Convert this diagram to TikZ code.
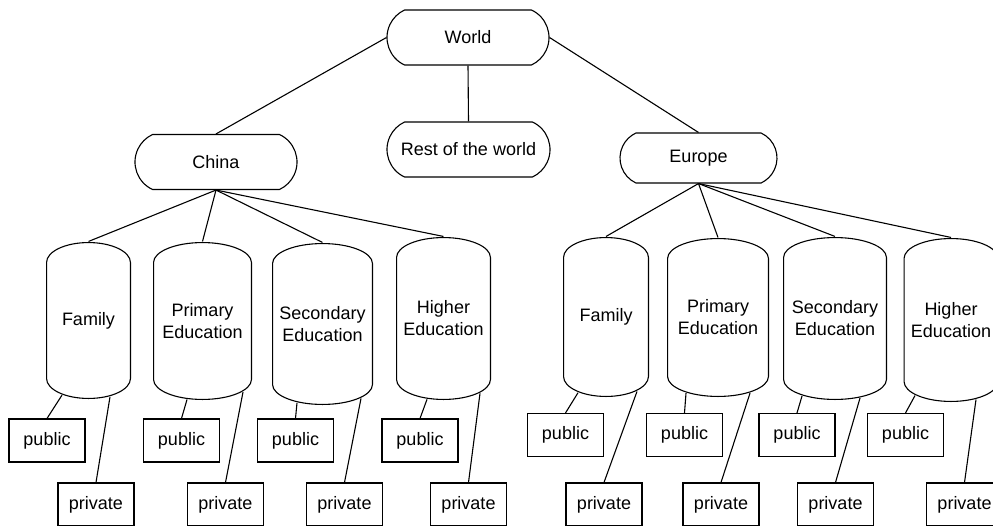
\documentclass[tikz,border=0pt]{standalone}
\usepackage{fontspec}
\setmainfont{Liberation Sans}
\usetikzlibrary{calc, shapes.misc}

\begin{document}
\begin{tikzpicture}[x=1pt, y=-1pt, line width=1.1pt,
    font=\fontsize{18}{22}\selectfont,
    region/.style={rounded rectangle, rounded rectangle arc length=130, draw,
        minimum width=162, minimum height=55, inner sep=0},
    branch/.style={rectangle, inner sep=0, align=center, fill=white,
        path picture={
            \draw[line width=1.1pt]
                let \p1=(path picture bounding box.south west),
                    \p2=(path picture bounding box.north east),
                    \n1={(\x2-\x1)/2-0.55pt} in
                (\x1+0.55pt,\y2-20.5pt)
                    arc[start angle=180, end angle=0, x radius=\n1, y radius=19.95pt]
                -- (\x2-0.55pt,\y1+20.5pt)
                    arc[start angle=0, end angle=-180, x radius=\n1, y radius=19.95pt]
                -- cycle;
        }},
    leaf/.style={rectangle, draw, minimum width=76, minimum height=43, inner sep=0}]

    \useasboundingbox (0,0) rectangle (993,525);

    % =================================================================
    % 1. WORLD AND ITS THREE REGIONS
    % =================================================================
    \node[region] (world) at (468,37.5) {World};
    \node[region] (china) at (216,162) {China};
    \node[region, minimum width=163] (rest) at (468.5,149.5) {Rest of the world};
    \node[region, minimum width=157, minimum height=50] (europe) at (698.5,158) {Europe};

    \draw (world.west) -- (china.north);
    \draw (world.south) -- (rest.north);
    \draw (world.east) -- (europe.north);

    % =================================================================
    % 2. SECTORS OF EACH REGION
    % =================================================================
    % China
    \node[branch, minimum width=85, minimum height=157] (cfam) at (88.5,320.5) {Family};
    \node[branch, minimum width=99, minimum height=158] (cpri) at (202.5,321) {Primary\\Education};
    \node[branch, minimum width=101, minimum height=162] (csec) at (322.5,324) {Secondary\\Education};
    \node[branch, minimum width=95, minimum height=163] (chig) at (443.5,318.5) {Higher\\Education};

    % Europe
    \node[branch, minimum width=86, minimum height=160] (efam) at (606,317) {Family};
    \node[branch, minimum width=102, minimum height=159] (epri) at (718,317.5) {Primary\\Education};
    \node[branch, minimum width=104, minimum height=163] (esec) at (835,318.5) {Secondary\\Education};
    \node[branch, minimum width=95, minimum height=164] (ehig) at (951,320) {Higher\\Education};

    \foreach \b in {cfam, cpri, csec, chig} {
        \draw (china.south) -- (\b.north);
    }
    \foreach \b in {efam, epri, esec, ehig} {
        \draw (europe.south) -- (\b.north);
    }

    % =================================================================
    % 3. PUBLIC AND PRIVATE UNDER EACH SECTOR
    % =================================================================
    \foreach \b/\xa/\xb/\y in {cfam/47/96/440.5, cpri/181.5/225.5/440.5,
            csec/295.5/344.5/440.5, chig/420/468.5/440.5,
            efam/565.5/604/435, epri/684.5/721/435,
            esec/797/835.5/435, ehig/905.5/964.5/435} {
        \node[leaf] (\b-pub) at (\xa,\y) {public};
        \node[leaf] (\b-pri) at (\xb,504.5) {private};
    }

    % links start on the lower arc of each sector
    \foreach \b/\ax/\ay/\bx/\by in {cfam/-26.5/-4.4/21.5/-2.7, cpri/-15.5/-1/40.5/-8.5,
            csec/-25.5/-2.7/38.5/-7.1, chig/-16.5/-1.2/36.5/-7.2,
            efam/-28/-4.8/31/-6.1, epri/-32/-4.4/32/-4.4,
            esec/-33/-4.5/25/-2.5, ehig/-36/-7/25/-3} {
        \draw ($(\b.south)+(\ax,\ay)$) -- (\b-pub.north);
        \draw ($(\b.south)+(\bx,\by)$) -- (\b-pri.north);
    }

\end{tikzpicture}
\end{document}
